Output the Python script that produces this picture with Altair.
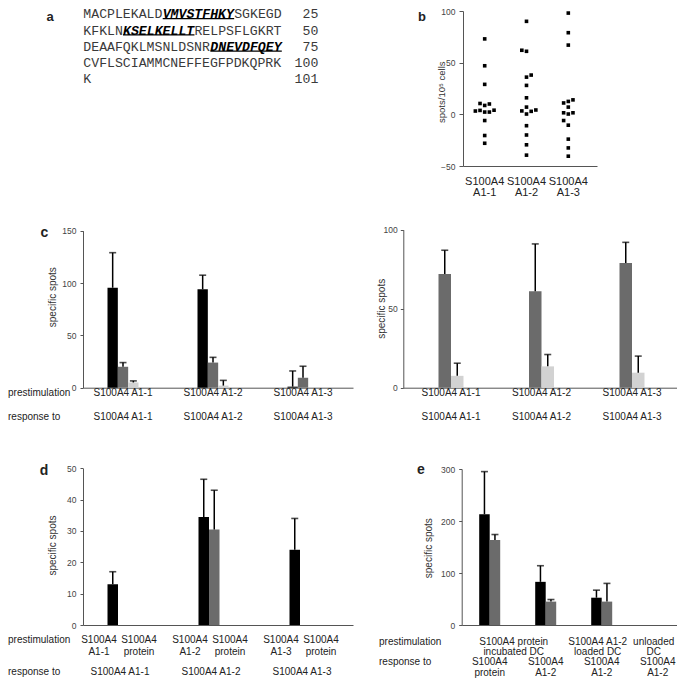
import altair as alt
import pandas as pd

W, H = 669, 671
M = 8  # page margin of the browser


def px(v):
    return v - M


def py(v):
    return v - M


SANS = "Liberation Sans"
MONO = "Liberation Mono"
INK = "#222222"
AX = "#555555"

SERIES = ["series 1", "series 2", "series 3"]
SERIES_COLORS = ["#000000", "#6b6b6b", "#d2d2d2"]

# ---------------- data ----------------
# a: S100A4 sequence (segments per printed line, epitopes flagged)
seq_text = ["MACPLEKALD", "VMVSTFHKY", "SGKEGD",
            "KFKLN", "KSELKELLT", "RELPSFLGKRT",
            "DEAAFQKLMSNLDSNR", "DNEVDFQEY",
            "CVFLSCIAMMCNEFFEGFPDKQPRK",
            "K"]
seq_line = [0, 0, 0, 1, 1, 1, 2, 2, 3, 4]
seq_epitope = [False, True, False, False, True, False, False, True, False, False]
seq_count = ["25", "50", "75", "100", "101"]

# b: spots / 10^5 cells per donor
b_groups = ["S100A4 A1-1", "S100A4 A1-2", "S100A4 A1-3"]
b_vals_1 = [73, 47, 29, 10.5, 8.6, 10, 3.2, 3.8, 2.2, 2.2, 4, -6, -20.5, -28]
b_slot_1 = [0, 0, 0, -1, 0, 1, -2, -1, 0, 1, 2, 0, 0, 0]
b_vals_2 = [90, 62, 61, 36, 38, 28, 16, 7, 3.3, 0.3, 2.9, 4.2, -11, -20, -29.5, -39.5]
b_slot_2 = [0, -1, 0, 0, 1, 0, 0, 0, -1, 0, 1, 2, 0, 0, 0, 0]
b_vals_3 = [98, 79, 67, 11, 12.5, 14, 7, 1.5, 0.3, 1.5, -6, -10.5, -24, -32.5, -40.5]
b_slot_3 = [0, 0, 0, -1, 0, 1, 0, -1, 0, 1, -1, 0, 0, 0, 0]
b_line1 = ["S100A4", "S100A4", "S100A4"]
b_line2 = ["A1-1", "A1-2", "A1-3"]

# c (left and right)
c_groups = ["S100A4 A1-1", "S100A4 A1-2", "S100A4 A1-3"]
cl_s1 = [95.5, 94, 1]
cl_s1_err = [129, 107.5, 16]
cl_s2 = [20, 24, 9.5]
cl_s2_err = [24, 29, 20.5]
cl_s3 = [5, 2, 0]
cl_s3_err = [6.5, 7, None]
cr_s2 = [72, 61, 79]
cr_s2_err = [87, 91, 92]
cr_s3 = [7.5, 13.5, 9.5]
cr_s3_err = [15.5, 21, 20]
c_pre = ["S100A4 A1-1", "S100A4 A1-2", "S100A4 A1-3"]
c_resp = ["S100A4 A1-1", "S100A4 A1-2", "S100A4 A1-3"]

# d
d_groups = ["S100A4 A1-1", "S100A4 A1-2", "S100A4 A1-3"]
d_s1 = [13, 34.5, 24]
d_s1_err = [17, 46.5, 34]
d_s2 = [0, 30.5, 0]
d_s2_err = [None, 43, None]
d_pep_1 = ["S100A4", "S100A4", "S100A4"]
d_pep_2 = ["A1-1", "A1-2", "A1-3"]
d_prot_1 = ["S100A4", "S100A4", "S100A4"]
d_prot_2 = ["protein", "protein", "protein"]
d_resp = ["S100A4 A1-1", "S100A4 A1-2", "S100A4 A1-3"]

# e
e_groups = ["protein DC / protein", "protein DC / A1-2", "A1-2 DC / A1-2", "unloaded DC / A1-2"]
e_s1 = [213, 83, 52.5, 0]
e_s1_err = [295, 114, 67, None]
e_s2 = [163.5, 45, 45, 0]
e_s2_err = [174, 49, 80, None]
e_resp_1 = ["S100A4", "S100A4", "S100A4", "S100A4"]
e_resp_2 = ["protein", "A1-2", "A1-2", "A1-2"]
e_pre_1 = ["S100A4 protein", "", "S100A4 A1-2", "unloaded"]
e_pre_2 = ["incubated DC", "", "loaded DC", "DC"]


# ---------------- helpers ----------------
def band_params(r0, r1, n, step, bw, c1):
    pin = 1 - bw / step
    span = r1 - r0
    pout = (span / step - n + pin) / 2
    left = span - step * (n - pin)
    align = (c1 - bw / 2 - r0) / left
    return pin, pout, max(0.0, min(1.0, align))


def free_text(txt, x, y, size=10, weight="normal", align="left", color=INK):
    return alt.Chart(pd.DataFrame({"t": [txt]})).mark_text(
        font=SANS, fontSize=size, fontWeight=weight, align=align,
        baseline="alphabetic" if weight == "bold" else "middle", color=color
    ).encode(text="t:N", x=alt.value(px(x)), y=alt.value(py(y)))


def series_df(groups, pairs):
    rows = []
    for name, vals, errs in pairs:
        for g, v, e in zip(groups, vals, errs):
            rows.append({"grp": g, "series": name, "val": v, "err": e})
    return pd.DataFrame(rows)


color_enc = alt.Color("series:N", scale=alt.Scale(domain=SERIES, range=SERIES_COLORS), legend=None)


def bar_panel(df, groups, series, xr, step, bw, c1, ydom, yr, yvals,
              title_dx, title_y, label_pad, texts):
    pin, pout, align = band_params(xr[0], xr[1], len(groups), step, bw, c1)
    xs = alt.Scale(domain=groups, range=[px(xr[0]), px(xr[1])],
                   paddingInner=pin, paddingOuter=pout, align=align)
    xaxis = alt.Axis(orient="bottom", offset=py(yr[0]) - H, labels=False, ticks=False,
                     title=None, grid=False)
    x_enc = alt.X("grp:N", scale=xs, axis=xaxis)
    ys = alt.Scale(domain=ydom, range=[py(yr[0]), py(yr[1])], nice=False, zero=False)
    yaxis = alt.Axis(orient="left", offset=-px(xr[0]), values=yvals, title="specific spots",
                     titleX=title_dx, titleY=py(title_y), titleAngle=270, titleAlign="center",
                     titleBaseline="middle", grid=False, tickSize=3, labelPadding=label_pad)
    xo = alt.XOffset("series:N", scale=alt.Scale(domain=series))
    base = alt.Chart(df)
    bars = base.mark_bar().encode(
        x=x_enc, xOffset=xo, y=alt.Y("val:Q", scale=ys, axis=yaxis), color=color_enc)
    valid = base.transform_filter("isValid(datum.err)")
    rules = valid.mark_rule(color="black", strokeWidth=1.5).encode(
        x=x_enc, xOffset=xo, y=alt.Y("val:Q", scale=ys, axis=yaxis), y2=alt.Y2("err:Q"))
    caps = valid.mark_tick(color="black", thickness=1.6, size=7, orient="horizontal").encode(
        x=x_enc, xOffset=xo, y=alt.Y("err:Q", scale=ys, axis=yaxis))
    layers = [bars, rules, caps]
    for tdf, field, ys_screen, dx in texts:
        layers.append(alt.Chart(tdf).mark_text(
            font=SANS, fontSize=10, color=INK, dx=dx, baseline="middle", align="center"
        ).encode(x=x_enc, y=alt.value(py(ys_screen)), text=f"{field}:N"))
    return alt.layer(*layers)


# ---------------- panel a ----------------
a_rows = []
col_pos = {}
for t, ln, ep in zip(seq_text, seq_line, seq_epitope):
    c0 = col_pos.get(ln, 0)
    a_rows.append({"seg": t, "line": ln, "col0": c0, "col1": c0 + len(t), "epitope": ep})
    col_pos[ln] = c0 + len(t)
a_df = pd.DataFrame(a_rows)
a_x = alt.Scale(domain=[0, 25], range=[px(83.3), px(281.8)], zero=False, nice=False)
a_y = alt.Scale(domain=[0, 4], range=[py(14.3), py(79.3)], zero=False, nice=False)
a_base = alt.Chart(a_df)
a_plain = a_base.transform_filter("!datum.epitope").mark_text(
    font=MONO, fontSize=13.2, align="left", baseline="middle", color="#3a3a3a"
).encode(x=alt.X("col0:Q", scale=a_x, axis=None), y=alt.Y("line:Q", scale=a_y, axis=None), text="seg:N")
a_bold = a_base.transform_filter("datum.epitope").mark_text(
    font=MONO, fontSize=13.2, align="left", baseline="middle", color="#000000",
    fontWeight="bold", fontStyle="italic"
).encode(x=alt.X("col0:Q", scale=a_x, axis=None), y=alt.Y("line:Q", scale=a_y, axis=None), text="seg:N")
a_under = a_base.transform_filter("datum.epitope").transform_calculate(
    uline="datum.line + 0.26"
).mark_rule(color="black", strokeWidth=1.3).encode(
    x=alt.X("col0:Q", scale=a_x, axis=None), x2="col1:Q", y=alt.Y("uline:Q", scale=a_y, axis=None))
a_num = alt.Chart(pd.DataFrame({"line": [0, 1, 2, 3, 4], "n": seq_count})).mark_text(
    font=MONO, fontSize=13.2, align="right", baseline="middle", color="#3a3a3a"
).encode(x=alt.value(px(318.3)), y=alt.Y("line:Q", scale=a_y, axis=None), text="n:N")
panel_a = alt.layer(a_plain, a_bold, a_under, a_num)

# ---------------- panel b ----------------
b_rows = []
for g, vals, slots in zip(b_groups, [b_vals_1, b_vals_2, b_vals_3], [b_slot_1, b_slot_2, b_slot_3]):
    for v, s in zip(vals, slots):
        b_rows.append({"grp": g, "val": v, "slot": s})
b_df = pd.DataFrame(b_rows)
b_pin, b_pout, b_align = band_params(463, 597, 3, 41.8, 41.8, 484.7)
b_xs = alt.Scale(domain=b_groups, range=[px(463), px(597)], paddingInner=b_pin,
                 paddingOuter=b_pout, align=b_align)
b_x = alt.X("grp:N", scale=b_xs, axis=alt.Axis(orient="bottom", offset=py(166) - H, labels=False,
                                                  ticks=False, title=None, grid=False))
b_ys = alt.Scale(domain=[-50, 100], range=[py(166), py(11)], nice=False, zero=False)
b_y = alt.Y("val:Q", scale=b_ys, axis=alt.Axis(
    orient="left", offset=-px(463), values=[-50, 0, 50, 100], title="spots/10⁵ cells",
    titleX=-21.5, titleY=py(91.7), titleAngle=270, titleAlign="center", titleBaseline="middle",
    titleFontSize=9.5, grid=False, tickSize=4, labelPadding=4))
b_pts = alt.Chart(b_df).mark_square(size=13, color="black", opacity=1).encode(
    x=b_x, y=b_y,
    xOffset=alt.XOffset("slot:Q", scale=alt.Scale(domain=[-2, 2], range=[20.9 - 9.34, 20.9 + 9.34])))
b_lab_df = pd.DataFrame({"grp": b_groups, "l1": b_line1, "l2": b_line2})
b_l1 = alt.Chart(b_lab_df).mark_text(font=SANS, fontSize=11, color=INK, baseline="middle").encode(
    x=b_x, y=alt.value(py(181.7)), text="l1:N")
b_l2 = alt.Chart(b_lab_df).mark_text(font=SANS, fontSize=11, color=INK, baseline="middle").encode(
    x=b_x, y=alt.value(py(192.7)), text="l2:N")
panel_b = alt.layer(b_pts, b_l1, b_l2)

# ---------------- panel c ----------------
c_lab = pd.DataFrame({"grp": c_groups, "pre": c_pre, "resp": c_resp})
cl_df = series_df(c_groups, [(SERIES[0], cl_s1, cl_s1_err), (SERIES[1], cl_s2, cl_s2_err),
                             (SERIES[2], cl_s3, cl_s3_err)])
panel_cl = bar_panel(cl_df, c_groups, SERIES, (83, 353), 90, 31, 123,
                     [0, 150], (387.7, 230.7), [0, 50, 100, 150], -31, 296.7, 4,
                     [(c_lab, "pre", 393, 0), (c_lab, "resp", 417, 0)])
cr_df = series_df(c_groups, [(SERIES[1], cr_s2, cr_s2_err), (SERIES[2], cr_s3, cr_s3_err)])
panel_cr = bar_panel(cr_df, c_groups, SERIES[1:], (403.3, 683), 90.5, 25, 451,
                     [0, 100], (387.7, 229.7), [0, 50, 100], -22, 308.3, 3,
                     [(c_lab, "pre", 393, 0), (c_lab, "resp", 417, 0)])

# ---------------- panel d ----------------
d_lab = pd.DataFrame({"grp": d_groups, "p1": d_pep_1, "p2": d_pep_2, "q1": d_prot_1,
                      "q2": d_prot_2, "resp": d_resp})
d_df = series_df(d_groups, [(SERIES[0], d_s1, d_s1_err), (SERIES[1], d_s2, d_s2_err)])
panel_d = bar_panel(d_df, d_groups, SERIES[:2], (83, 353), 91, 21, 118,
                    [0, 50], (625, 468.3), [0, 10, 20, 30, 40, 50], -31, 545, 4,
                    [(d_lab, "p1", 640, -19), (d_lab, "p2", 651.7, -19),
                     (d_lab, "q1", 640, 21), (d_lab, "q2", 651.7, 21),
                     (d_lab, "resp", 671.7, 2)])

# ---------------- panel e ----------------
e_lab = pd.DataFrame({"grp": e_groups, "r1": e_resp_1, "r2": e_resp_2, "p1": e_pre_1, "p2": e_pre_2})
e_df = series_df(e_groups, [(SERIES[0], e_s1, e_s1_err), (SERIES[1], e_s2, e_s2_err)])
e_first = e_lab.iloc[[0]]
e_rest = e_lab.iloc[[2, 3]]
panel_e = bar_panel(e_df, e_groups, SERIES[:2], (461.7, 683), 56, 21, 489.7,
                    [0, 300], (625, 469), [0, 100, 200, 300], -33, 547.7, 4,
                    [(e_first, "p1", 641.7, 24), (e_first, "p2", 651.7, 24),
                     (e_rest, "p1", 641.7, -4), (e_rest, "p2", 651.7, -4),
                     (e_lab, "r1", 662.3, 0), (e_lab, "r2", 673.3, 0)])

# ---------------- free labels ----------------
free = [
    free_text("a", 50, 21, size=13, weight="bold", align="center"),
    free_text("b", 422, 21, size=13, weight="bold", align="center"),
    free_text("c", 44.5, 237, size=14, weight="bold", align="center"),
    free_text("d", 44, 475, size=14, weight="bold", align="center"),
    free_text("e", 421, 474, size=14, weight="bold", align="center"),
    free_text("prestimulation", 8, 393),
    free_text("response to", 8, 417),
    free_text("prestimulation", 8, 640),
    free_text("response to", 8, 671.7),
    free_text("prestimulation", 379, 641.7),
    free_text("response to", 379, 662.3),
]

chart = alt.layer(panel_a, panel_b, panel_cl, panel_cr, panel_d, panel_e, *free).resolve_scale(
    x="independent", y="independent", xOffset="independent"
).resolve_axis(x="independent", y="independent").properties(
    width=W, height=H, padding=0, autosize=alt.AutoSizeParams(type="none")
).configure_view(stroke=None).configure_axis(
    labelFont=SANS, titleFont=SANS, labelFontSize=8.5, titleFontSize=10, titleFontWeight="normal",
    labelColor="#444444", titleColor="#333333", domainColor=AX, tickColor=AX, domainWidth=1,
    tickWidth=1
)

chart.save("out.html", embed_options={"renderer": "svg", "actions": False})
